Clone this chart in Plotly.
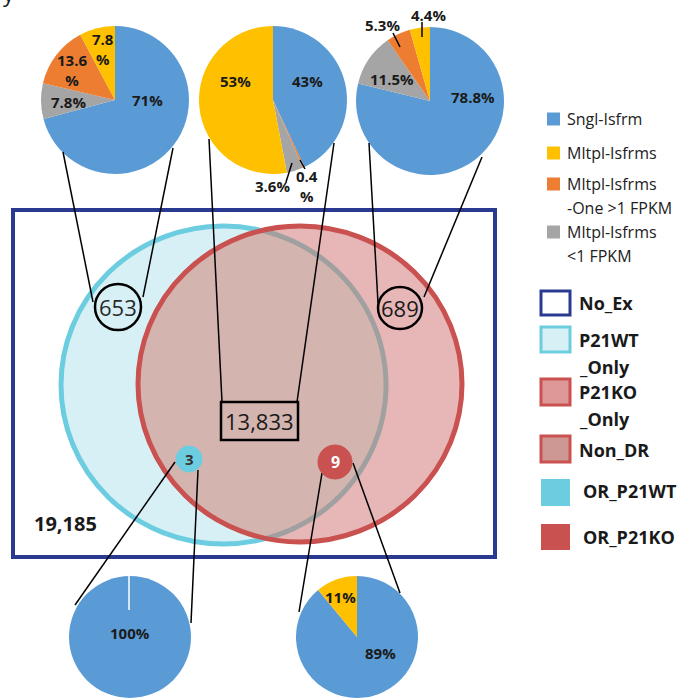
import numpy as np
import plotly.graph_objects as go

W, H = 681, 698

# ---------------- data ----------------
categories = ["Sngl-Isfrm", "Mltpl-Isfrms", "Mltpl-Isfrms -One >1 FPKM", "Mltpl-Isfrms <1 FPKM"]
wt_only_pct = [71.0, 7.8, 13.6, 7.8]
non_dr_pct = [43.0, 53.0, 0.4, 3.6]
ko_only_pct = [78.8, 4.4, 5.3, 11.5]
or_wt_pct = [100.0, 0.0, 0.0, 0.0]
or_ko_pct = [89.0, 11.0, 0.0, 0.0]

set_names = ["No_Ex", "P21WT_Only", "Non_DR", "P21KO_Only", "OR_P21WT", "OR_P21KO"]
set_counts = ["19,185", "653", "13,833", "689", "3", "9"]

wt_only_labels = ["71%", "7.8<br>%", "13.6<br>%", "7.8%"]
non_dr_labels = ["43%", "53%", "0.4<br>%", "3.6%"]
ko_only_labels = ["78.8%", "4.4%", "5.3%", "11.5%"]
or_wt_labels = ["100%", "", "", ""]
or_ko_labels = ["89%", "11%", "", ""]

legend1_lines = [["Sngl-Isfrm"], ["Mltpl-Isfrms"], ["Mltpl-Isfrms", "-One >1 FPKM"], ["Mltpl-Isfrms", "<1 FPKM"]]
legend2_lines = [["No_Ex"], ["P21WT", "_Only"], ["P21KO", "_Only"], ["Non_DR"], ["OR_P21WT"], ["OR_P21KO"]]

# ---------------- styles ----------------
BLUE, YEL, ORA, GRY = "#5B9BD5", "#FFC000", "#ED7D31", "#A5A5A5"
slice_colors = [BLUE, YEL, ORA, GRY]
NAVY = "#2B3A91"
CYAN = "#6DCDE0"
CYAN_FILL = "rgb(215,240,246)"
RED = "#C9514F"
RED_FILL = "rgb(231,182,183)"
LENS_FILL = "rgb(212,180,175)"
LENS_EDGE = "rgb(160,160,160)"
FONT = "Open Sans"

fig = go.Figure()
fig.add_trace(go.Scatter(x=[0, W], y=[0, H], mode="markers", marker=dict(opacity=0),
                         hoverinfo="skip", showlegend=False))


def dom(cx, cy, r):
    clamp = lambda v: min(1.0, max(0.0, v))
    return dict(x=[clamp((cx - r) / W), clamp((cx + r) / W)],
                y=[clamp(1 - (cy + r) / H), clamp(1 - (cy - r) / H)])


# slices are laid out clockwise from 12 o'clock in the listed order
pies = [
    (wt_only_pct, wt_only_labels, (115, 100), 74, [0, 3, 2, 1],
     [(147, 100), (103, 49), (72, 70), (68, 102)]),
    (non_dr_pct, non_dr_labels, (273, 100), 74, [0, 2, 3, 1],
     [(307, 81), (235, 81), (307, 186), (272, 186)]),
    (ko_only_pct, ko_only_labels, (430, 101), 74, [0, 3, 2, 1],
     [(473, 97), (428, 15), (382, 25), (392, 79)]),
    (or_wt_pct, or_wt_labels, (130, 637), 61, [0],
     [(130, 633), None, None, None]),
    (or_ko_pct, or_ko_labels, (357, 637), 61, [0, 1],
     [(380, 653), (340, 597), None, None]),
]

annotations = []
shapes = []

for vals, labs, (cx, cy), r, order, pos in pies:
    v = [vals[i] for i in order if vals[i] > 0]
    c = [slice_colors[i] for i in order if vals[i] > 0]
    n = [categories[i] for i in order if vals[i] > 0]
    fig.add_trace(go.Pie(values=v, labels=n, marker=dict(colors=c, line=dict(width=0)),
                         sort=False, direction="clockwise", rotation=0, textinfo="none",
                         domain=dom(cx, cy, r), showlegend=False, hoverinfo="label+percent"))
    for lab, p in zip(labs, pos):
        if p is None or not lab:
            continue
        annotations.append(dict(x=p[0], y=p[1], xref="x", yref="y", text="<b>" + lab + "</b>",
                                showarrow=False, font=dict(family=FONT, size=15, color="#1a1a1a")))

# white seam on the 100% pie
shapes.append(dict(type="line", xref="x", yref="y", x0=129, x1=129, y0=576, y1=610,
                   line=dict(color="white", width=1.5)))

# pie leader lines
for (x0, y0, x1, y1) in [(286, 182, 292, 163), (300, 160, 305, 169), (393, 33, 400, 47), (422, 22, 422, 37)]:
    shapes.append(dict(type="line", xref="x", yref="y", x0=x0, y0=y0, x1=x1, y1=y1,
                       line=dict(color="black", width=1.5)))

# ---------------- Venn ----------------
WT_E = (223.5, 385.0, 162.5, 159.0)   # cx, cy, rx, ry
KO_E = (300.0, 384.0, 162.0, 158.0)


def ell_pts(e, t):
    cx, cy, rx, ry = e
    return cx + rx * np.cos(t), cy + ry * np.sin(t)


def inside(e, x, y):
    cx, cy, rx, ry = e
    return ((x - cx) / rx) ** 2 + ((y - cy) / ry) ** 2 < 1


def path_of(xs, ys, close):
    s = "M " + " L ".join(f"{a:.2f},{b:.2f}" for a, b in zip(xs, ys))
    return s + (" Z" if close else "")


t1 = np.linspace(-np.pi, np.pi, 1441)
wx, wy = ell_pts(WT_E, t1)
m1 = inside(KO_E, wx, wy)
arc_wt_x, arc_wt_y = wx[m1], wy[m1]
t2 = np.linspace(0, 2 * np.pi, 1441)
kx, ky = ell_pts(KO_E, t2)
m2 = inside(WT_E, kx, ky)
arc_ko_x, arc_ko_y = kx[m2], ky[m2]

shapes.append(dict(type="rect", xref="x", yref="y", x0=13, x1=495, y0=210, y1=557,
                   line=dict(color=NAVY, width=4), fillcolor="white", layer="below"))
shapes.append(dict(type="circle", xref="x", yref="y",
                   x0=WT_E[0] - WT_E[2], x1=WT_E[0] + WT_E[2], y0=WT_E[1] - WT_E[3], y1=WT_E[1] + WT_E[3],
                   line=dict(color=CYAN, width=5), fillcolor=CYAN_FILL, layer="below"))
shapes.append(dict(type="circle", xref="x", yref="y",
                   x0=KO_E[0] - KO_E[2], x1=KO_E[0] + KO_E[2], y0=KO_E[1] - KO_E[3], y1=KO_E[1] + KO_E[3],
                   line=dict(width=0), fillcolor=RED_FILL, layer="below"))
shapes.append(dict(type="path", xref="x", yref="y",
                   path=path_of(np.concatenate([arc_wt_x, arc_ko_x]), np.concatenate([arc_wt_y, arc_ko_y]), True),
                   line=dict(width=0), fillcolor=LENS_FILL, layer="below"))
shapes.append(dict(type="path", xref="x", yref="y", path=path_of(arc_wt_x, arc_wt_y, False),
                   line=dict(color=LENS_EDGE, width=5), layer="below"))
shapes.append(dict(type="circle", xref="x", yref="y",
                   x0=KO_E[0] - KO_E[2], x1=KO_E[0] + KO_E[2], y0=KO_E[1] - KO_E[3], y1=KO_E[1] + KO_E[3],
                   line=dict(color=RED, width=5), fillcolor="rgba(0,0,0,0)", layer="below"))

# connector lines
connectors = [
    (63, 152, 93, 302), (173, 148, 143, 297),
    (209, 139, 222, 402), (334, 143, 297, 402),
    (369, 143, 378, 303), (482, 157, 424, 297),
    (175, 462, 75, 605), (198, 470, 191, 623),
    (322, 473, 299, 612), (353, 463, 400, 593),
]
for (x0, y0, x1, y1) in connectors:
    shapes.append(dict(type="line", xref="x", yref="y", x0=x0, y0=y0, x1=x1, y1=y1,
                       line=dict(color="black", width=1.5)))

# count markers
shapes.append(dict(type="circle", xref="x", yref="y", x0=95, x1=141, y0=284, y1=330,
                   line=dict(color="black", width=2.5)))
shapes.append(dict(type="circle", xref="x", yref="y", x0=378, x1=422, y0=287, y1=329,
                   line=dict(color="black", width=2.5)))
shapes.append(dict(type="rect", xref="x", yref="y", x0=221, x1=298, y0=402, y1=440,
                   line=dict(color="black", width=2.5)))
shapes.append(dict(type="circle", xref="x", yref="y", x0=176, x1=202, y0=446, y1=472,
                   line=dict(color=CYAN, width=1), fillcolor=CYAN))
shapes.append(dict(type="circle", xref="x", yref="y", x0=318, x1=352, y0=445, y1=479,
                   line=dict(color=RED, width=1), fillcolor=RED))

count_pos = [(65, 523), (118, 307), (259, 421), (400, 308), (189, 459), (335, 462)]
count_style = [
    dict(size=20, color="#1a1a1a", weight=700),
    dict(size=22, color="#2a2a2a", weight=400),
    dict(size=22, color="#1a1a1a", weight=400),
    dict(size=22, color="#1a1a1a", weight=400),
    dict(size=15, color="#333333", weight=700),
    dict(size=16, color="white", weight=700),
]
for txt, (x, y), st in zip(set_counts, count_pos, count_style):
    annotations.append(dict(x=x, y=y, xref="x", yref="y", text=txt, showarrow=False,
                            font=dict(family=FONT, size=st["size"], color=st["color"], weight=st["weight"])))

# ---------------- legend 1 (pie categories) ----------------
leg1_y = [119, 153, 184, 232]
for lines, col, y in zip(legend1_lines, slice_colors, leg1_y):
    shapes.append(dict(type="rect", xref="x", yref="y", x0=547, x1=560, y0=y - 6.5, y1=y + 6.5,
                       line=dict(width=0), fillcolor=col))
    for k, ln in enumerate(lines):
        annotations.append(dict(x=565, y=y + 23.5 * k, xref="x", yref="y", text=ln, showarrow=False,
                                xanchor="left", align="left",
                                font=dict(family=FONT, size=16, color="#222222")))

# ---------------- legend 2 (Venn sets) ----------------
leg2_box = [(291, 315), (327, 352), (379, 405), (436, 462), (479, 506), (524, 550)]
leg2_fill = ["white", CYAN_FILL, "#DE9898", "#CD9893", CYAN, RED]
leg2_line = [NAVY, CYAN, RED, RED, CYAN, RED]
leg2_lw = [3, 3, 3, 3, 0, 0]
leg2_text = [(577, 303), (577, 340), (577, 392), (577, 450), (581, 491), (581, 537)]
for lines, (y0, y1), fc, lc, lw, (tx, ty) in zip(legend2_lines, leg2_box, leg2_fill, leg2_line, leg2_lw, leg2_text):
    shapes.append(dict(type="rect", xref="x", yref="y", x0=541, x1=570, y0=y0, y1=y1,
                       line=dict(color=lc, width=lw), fillcolor=fc))
    for k, ln in enumerate(lines):
        annotations.append(dict(x=tx, y=ty + 27 * k, xref="x", yref="y", text="<b>" + ln + "</b>",
                                showarrow=False, xanchor="left", align="left",
                                font=dict(family=FONT, size=18, color="#1a1a1a")))

# clipped panel letter at top-left (only its descender shows, as in the source)
annotations.append(dict(x=9 / W, y=1 - 10 / H, xref="paper", yref="paper", text="y", showarrow=False,
                        xanchor="center", yanchor="bottom",
                        font=dict(family=FONT, size=22, color="#1a1a1a")))

fig.update_layout(
    width=W, height=H, margin=dict(l=0, r=0, t=0, b=0),
    paper_bgcolor="white", plot_bgcolor="white",
    xaxis=dict(range=[0, W], visible=False, fixedrange=True, domain=[0, 1]),
    yaxis=dict(range=[H, 0], visible=False, fixedrange=True, domain=[0, 1]),
    shapes=shapes, annotations=annotations, showlegend=False,
)

fig.write_html("out.html")
